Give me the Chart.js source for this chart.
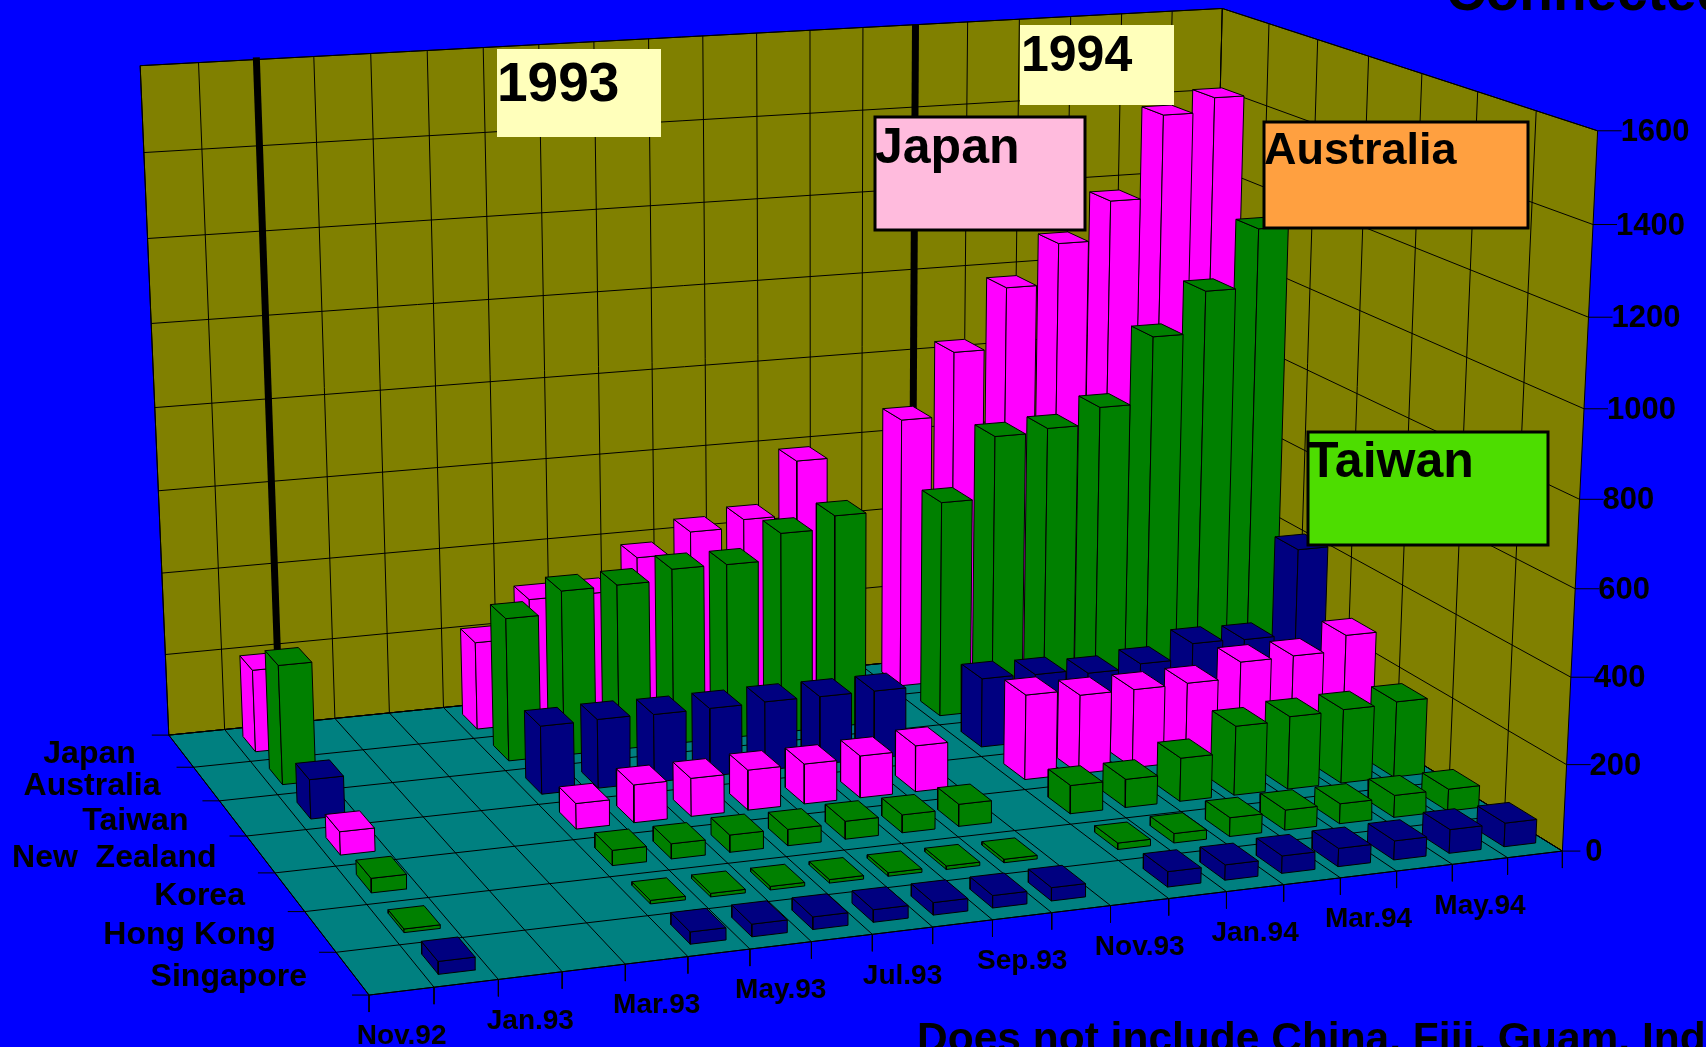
<!DOCTYPE html>
<html>
<head>
<meta charset="utf-8">
<title>Connected</title>
<script src="https://cdn.jsdelivr.net/npm/chart.js@4/dist/chart.umd.min.js"></script>
<style>
html,body{margin:0;padding:0;background:#0000ff;overflow:hidden}
#wrap{width:1706px;height:1047px;position:relative}
</style>
</head>
<body>
<div id="wrap"><canvas id="chart3d" width="1706" height="1047"></canvas></div>
<script>
// data
var months = ['Nov.92','Dec.92','Jan.93','Feb.93','Mar.93','Apr.93','May.93','Jun.93','Jul.93','Aug.93','Sep.93','Oct.93','Nov.93','Dec.93','Jan.94','Feb.94','Mar.94','Apr.94','May.94','Jun.94'];
var countries = ['Japan','Australia','Taiwan','New  Zealand','Korea','Hong Kong','Singapore'];
var yTicks = [0,200,400,600,800,1000,1200,1400,1600];
var japan      = [null,200,null,null,null,215,309,310,388,440,459,593,null,673,831,981,1081,1177,1380,1415];
var australia  = [null,286,null,null,null,346,400,402,428,427,491,522,null,531,682,691,732,895,997,1140];
var taiwan     = [null,93,null,null,null,163,165,163,164,166,165,165,null,168,165,155,165,202,199,410];
var newZealand = [null,54,null,null,null,60,89,90,95,95,100,110,null,204,190,190,192,230,232,269];
var korea      = [null,33,null,null,null,35,35,40,38,42,42,52,null,67,67,103,165,174,177,182];
var hongKong   = [null,8,null,null,null,8,8,8,8,8,8,8,null,15,22,44,47,47,52,52];
var singapore  = [null,28,null,null,null,27,28,28,28,28,28,30,null,35,35,40,42,44,55,55];
var rows = [japan,australia,taiwan,newZealand,korea,hongKong,singapore];
var rowColors = ['#ff00ff','#008000','#000080','#ff00ff','#008000','#008000','#000080'];

// corners of the 3d box on the page: [month, row, value, pageX, pageY]
var corners = [
  [0,0,0,169,734],[0,7,0,369,996],[20,7,0,1563,850],[20,0,0,1206,632],
  [0,0,1600,140,66],[20,0,1600,1223,8],[20,7,1600,1597,131]
];

function solve(A,b){
  var n=b.length,i,j,k;
  for(i=0;i<n;i++){
    var p=i;
    for(j=i+1;j<n;j++) if(Math.abs(A[j][i])>Math.abs(A[p][i])) p=j;
    var t=A[i];A[i]=A[p];A[p]=t;t=b[i];b[i]=b[p];b[p]=t;
    for(j=i+1;j<n;j++){
      var f=A[j][i]/A[i][i];
      for(k=i;k<n;k++) A[j][k]-=f*A[i][k];
      b[j]-=f*b[i];
    }
  }
  var x=[];
  for(i=n-1;i>=0;i--){
    var s=b[i];
    for(k=i+1;k<n;k++) s-=A[i][k]*x[k];
    x[i]=s/A[i][i];
  }
  return x;
}
function camera(pts){
  var N=[],B=[],i,j;
  for(i=0;i<11;i++){N.push(new Array(11).fill(0));B.push(0);}
  function add(r,v){
    for(i=0;i<11;i++){
      for(j=0;j<11;j++) N[i][j]+=r[i]*r[j];
      B[i]+=r[i]*v;
    }
  }
  pts.forEach(function(c){
    var x=c[0]/20,y=c[1]/7,z=c[2]/1600,u=c[3],v=c[4];
    add([x,y,z,1,0,0,0,0,-u*x,-u*y,-u*z],u);
    add([0,0,0,0,x,y,z,1,-v*x,-v*y,-v*z],v);
  });
  return solve(N,B);
}
var cam = camera(corners);
function project(m,r,v){
  var x=m/20,y=r/7,z=v/1600;
  var w=cam[8]*x+cam[9]*y+cam[10]*z+1;
  return {x:(cam[0]*x+cam[1]*y+cam[2]*z+cam[3])/w, y:(cam[4]*x+cam[5]*y+cam[6]*z+cam[7])/w};
}

var datasets=[];
function poly(pts,fill,line,width){
  datasets.push({
    type:'line',data:pts.concat([pts[0]]),
    backgroundColor:fill||'transparent',fill:fill?'shape':false,
    borderColor:line||'transparent',borderWidth:line?(width||1):0,
    pointRadius:0,tension:0,borderJoinStyle:'miter'
  });
}
function seg(a,b,width){
  datasets.push({type:'line',data:[a,b],borderColor:'#000000',borderWidth:width||1,pointRadius:0,fill:false});
}

// walls and floor
poly([project(0,0,0),project(20,0,0),project(20,0,1600),project(0,0,1600)],'#808000','#000000');
poly([project(20,0,0),project(20,7,0),project(20,7,1600),project(20,0,1600)],'#808000','#000000');
poly([project(0,0,0),project(20,0,0),project(20,7,0),project(0,7,0)],'#008080','#000000');
var i,j;
yTicks.forEach(function(t){
  seg(project(0,0,t),project(20,0,t));
  seg(project(20,0,t),project(20,7,t));
  var e=project(20,7,t);
  seg(e,{x:e.x+(t==0?18:24),y:e.y});
});
for(i=0;i<=20;i++){
  seg(project(i,0,0),project(i,0,1600));
  seg(project(i,0,0),project(i,7,0));
  var f=project(i,7,0);
  seg(f,{x:f.x,y:f.y+17});
}
for(j=0;j<=7;j++){
  seg(project(0,j,0),project(20,j,0));
  var g=project(0,j,0);
  seg(g,{x:g.x-17,y:g.y});
}
for(j=1;j<7;j++) seg(project(20,j,0),project(20,j,1600));
// year dividers on the back wall
seg(project(2,0,155),project(2,0,1605),7);
seg(project(14,0,0),project(14,0,1600),7);

// bars, back row first
var barW=0.58,barD=0.48;
rows.forEach(function(vals,r){
  for(var m=vals.length-1;m>=0;m--){
    if(vals[m]==null) continue;
    var x0=m+0.5-barW/2,x1=m+0.5+barW/2,y0=r+0.5-barD/2,y1=r+0.5+barD/2,v=vals[m],c=rowColors[r];
    poly([project(x0,y0,0),project(x0,y1,0),project(x0,y1,v),project(x0,y0,v)],c,'#000000');
    poly([project(x0,y1,0),project(x1,y1,0),project(x1,y1,v),project(x0,y1,v)],c,'#000000');
    poly([project(x0,y0,v),project(x1,y0,v),project(x1,y1,v),project(x0,y1,v)],c,'#000000');
  }
});

var annotations = {
  id:'annotations',
  afterDatasetsDraw:function(chart){
    var ctx=chart.ctx;
    function text(s,x,y,size,align){
      ctx.font='bold '+size+'px "Liberation Sans"';
      ctx.fillStyle='#000000';
      ctx.textAlign=align||'left';
      ctx.textBaseline='alphabetic';
      ctx.fillText(s,x,y);
    }
    function box(x0,y0,x1,y1,c,border){
      ctx.fillStyle=c;
      ctx.fillRect(x0,y0,x1-x0,y1-y0);
      if(border){ctx.strokeStyle='#000000';ctx.lineWidth=3;ctx.strokeRect(x0,y0,x1-x0,y1-y0);}
    }
    box(497,49,661,137,'#ffffbb');text('1993',497,101,55);
    box(1020,25,1174,105,'#ffffbb');text('1994',1021,71,50);
    box(875,117,1085,230,'#ffbbdd',true);text('Japan',875,163,50);
    box(1264,122,1528,228,'#ffa040',true);text('Australia',1264,164,45);
    box(1308,432,1548,545,'#4ddd00',true);text('Taiwan',1308,477,50);
    yTicks.forEach(function(t){
      var e=project(20,7,t);
      text(String(t),e.x+23,e.y+10,31);
    });
    months.forEach(function(m,k){
      if(k%2) return;
      var f=project(k+0.5,7,0);
      text(m,f.x,f.y+53,28,'center');
    });
    var ly=[763,795,830,867,905,944,986];
    var lx=[33,33,31,30,30,29,29];
    countries.forEach(function(c,k){
      var g=project(0,k,0);
      text(c,g.x-lx[k],ly[k],32,'right');
    });
    text('Connected',1446,10,55);
    text('Does not include China, Fiji, Guam, India',917,1052,42.5);
  }
};

new Chart(document.getElementById('chart3d'),{
  type:'scatter',
  data:{datasets:datasets.map(function(d,k){d.order=datasets.length-k;return d;})},
  options:{
    responsive:false,animation:false,
    layout:{padding:0},
    plugins:{legend:{display:false},tooltip:{enabled:false}},
    scales:{
      x:{type:'linear',min:0,max:1706,display:false},
      y:{type:'linear',min:0,max:1047,reverse:true,display:false}
    }
  },
  plugins:[annotations]
});
</script>
</body>
</html>
